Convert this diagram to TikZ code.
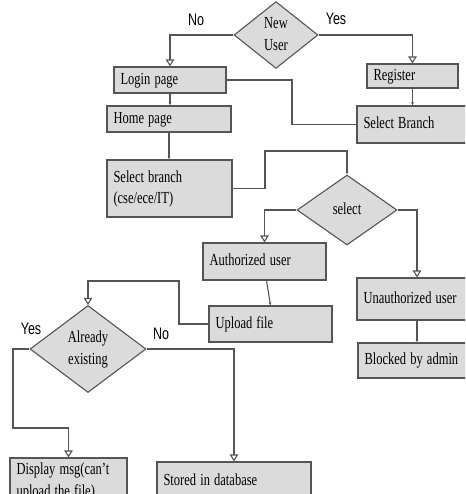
\documentclass[tikz,border=0pt]{standalone}
\usepackage{fontspec}
\usepackage{graphicx}
\setmainfont{Liberation Serif}
\newfontfamily\lsans{Liberation Sans}
\usetikzlibrary{shapes.geometric,arrows.meta}
\definecolor{boxfill}{HTML}{DBDBDB}
\definecolor{edge}{HTML}{555555}
\newcommand{\stl}[1]{\scalebox{1}[1.35]{\begin{tabular}{@{}l@{}}#1\end{tabular}}}
\newcommand{\stc}[1]{\scalebox{1}[1.35]{\begin{tabular}{@{}c@{}}#1\end{tabular}}}
\tikzset{
  box/.style={draw=edge, fill=boxfill, line width=1.1pt, rectangle, inner xsep=6.5pt, inner ysep=0pt, align=left, font=\fontsize{12.5}{16}\selectfont},
  dia/.style={draw=edge, fill=boxfill, line width=1.1pt, diamond, inner sep=0pt, font=\fontsize{12.5}{16}\selectfont},
  conn/.style={draw=edge, line width=1.1pt},
  oarr/.style={conn, -{Triangle[open, length=7pt, width=8.5pt, fill=white]}},
  sarr/.style={conn, -{Latex[length=3pt, width=3pt]}},
  lab/.style={font=\lsans\fontsize{12.5}{15}\selectfont, inner sep=0pt}
}
\begin{document}
\begin{tikzpicture}[x=1pt,y=-1pt]
\useasboundingbox (0,0) rectangle (465,494);
\clip (0,0) rectangle (465,494);
% nodes
\node[dia, minimum width=84pt, minimum height=56pt] (newuser) at (276,35) {\stc{New\\User}};
\node[box, minimum width=112pt, minimum height=26pt, text width=99pt] (login) at (170,80) {\stl{Login page}};
\node[box, minimum width=91pt, minimum height=24pt, text width=78pt] (register) at (412.5,76) {\stl{Register}};
\node[box, minimum width=124pt, minimum height=26pt, text width=111pt] (home) at (169,119) {\stl{Home page}};
\node[box, minimum width=120pt, minimum height=37pt, text width=107pt] (selB) at (417,124.5) {\stl{Select Branch}};
\node[box, minimum width=125pt, minimum height=57pt, text width=112pt] (selbranch) at (169.5,188.5) {\stl{Select branch\\(cse/ece/IT)}};
\node[dia, minimum width=100pt, minimum height=70pt] (select) at (347,210) {\stc{select}};
\node[box, minimum width=123pt, minimum height=37pt, text width=110pt] (auth) at (264.5,261.5) {\stl{Authorized user}};
\node[box, minimum width=123pt, minimum height=36pt, text width=110pt] (upload) at (270.5,324) {\stl{Upload file}};
\node[box, minimum width=120pt, minimum height=42pt, text width=107pt] (unauth) at (417,299) {\stl{Unauthorized user}};
\node[box, minimum width=118pt, minimum height=35pt, text width=105pt] (blocked) at (417,360.5) {\stl{Blocked by admin}};
\node[dia, minimum width=116pt, minimum height=87pt] (already) at (88,349) {\stc{Already\\existing}};
\node[box, minimum width=117pt, minimum height=46pt, text width=104pt] (display) at (68.5,481) {\stl{Display msg(can't\\upload the file)}};
\node[box, minimum width=154pt, minimum height=38pt, text width=141pt] (stored) at (234,481) {\stl{Stored in database}};
% labels
\node[lab] (lno1) at (196,20) {\scalebox{1}[1.33]{No}};
\node[lab] (lyes1) at (336,19) {\scalebox{1}[1.33]{Yes}};
\node[lab] (lyes2) at (31,329) {\scalebox{1}[1.33]{Yes}};
\node[lab] (lno2) at (161,334) {\scalebox{1}[1.33]{No}};
% helper coordinates
\coordinate (c1) at (292,80);
\coordinate (c2) at (265,151);
\coordinate (c3) at (179,281);
\coordinate (c4) at (13,428);
% connectors
\draw[oarr] (newuser.west) -| (login.north);
\draw[oarr] (newuser.east) -| (register.north);
\draw[sarr] (login.south) -- (login.south |- home.north);
\draw[conn] (login.east) -- (c1) |- (selB.west);
\draw[sarr] (register.south) -- (register.south |- selB.north);
\draw[sarr] (home.south) -- (home.south |- selbranch.north);
\draw[sarr] (selbranch.east) -| (c2) -| (select.north);
\draw[oarr] (select.west) -| (auth.north);
\draw[oarr] (select.east) -| (unauth.north);
\draw[sarr] (unauth.south) -- (blocked.north);
\draw[sarr] ([xshift=2pt]auth.south) -- (upload.north);
\draw[oarr] (upload.west) -| (c3) -| (already.north);
\draw[oarr] (already.west) -| (c4) -| (display.north);
\draw[oarr] (already.east) -| (stored.north);
\end{tikzpicture}
\end{document}
